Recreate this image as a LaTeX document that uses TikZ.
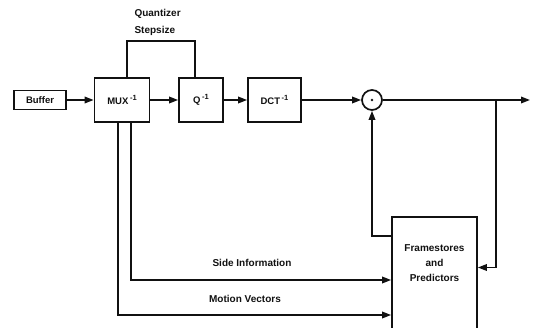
\documentclass[tikz,border=0pt]{standalone}
\usepackage{fontspec}
\setmainfont{Liberation Sans}
\usetikzlibrary{arrows.meta,positioning,calc}
\definecolor{BDInk}{HTML}{111111}
\definecolor{BDPaper}{HTML}{FFFFFF}
\newcommand{\inv}{\,\raisebox{0.9ex}{\fontsize{7.5}{8}\selectfont -1}}
\tikzset{
  flow/.style={-{Triangle[length=9pt,width=6.5pt]},BDInk,line width=1.7pt},
  wire/.style={BDInk,line width=1.7pt},
  block/.style={draw=BDInk,line width=1.7pt,fill=BDPaper,text=BDInk,
                font=\fontsize{9.5}{11}\selectfont\bfseries,align=center,inner sep=0pt},
  adder/.style={circle,draw=BDInk,line width=1.7pt,minimum size=20pt,inner sep=0pt},
  label/.style={text=BDInk,font=\fontsize{10}{17}\selectfont\bfseries,align=left},
}

\begin{document}
\begin{tikzpicture}[x=1pt,y=1pt]
    \useasboundingbox (0,0) rectangle (533,328);

    % ------------------------------------------------------------ forward path
    \node[block,minimum width=52pt,minimum height=19pt] (buffer) at (40,228)  {Buffer};
    \node[block,minimum width=55pt,minimum height=44pt] (mux)    at (122,228) {MUX\inv};
    \node[block,minimum width=44pt,minimum height=44pt] (quant)  at (201,228) {Q\inv};
    \node[block,minimum width=53pt,minimum height=44pt] (dct)    at (274.5,228) {DCT\inv};
    \node[adder] (sum) at (372,228) {};
    \fill[BDInk] (sum) circle (1.4);
    \coordinate (tap) at (496,228);
    \coordinate (out) at (530,228);

    \draw[flow] (buffer) -- (mux);
    \draw[flow] (mux) -- (quant);
    \draw[flow] (quant) -- (dct);
    \draw[flow] (dct) -- (sum);
    \draw[flow] (sum) -- (out);

    % ------------------------------------------------------- quantizer stepsize
    \draw[wire] ([xshift=5pt]mux.north) -- ++(0,36) -| ([xshift=-6pt]quant.north);
    \node[label,anchor=west] (stepsize) at (131,306) {Quantizer\\Stepsize};

    % ---------------------------------------------------------- prediction loop
    \node[block,minimum width=85pt,minimum height=113pt,
          font=\fontsize{10}{15}\selectfont\bfseries] (frame) at (434.5,54.5)
      {Framestores\\and\\Predictors\\[6pt]};
    \draw[flow] ([yshift=-20pt]frame.north west) -| (sum.south);
    \draw[flow] (tap) |- ([yshift=6pt]frame.east);

    % ------------------------------------------------------------- side channels
    \draw[flow] ([xshift=9pt]mux.south) |- ([yshift=-6.5pt]frame.west);
    \draw[flow] ([xshift=-4pt]mux.south) |- ([yshift=-41.5pt]frame.west);
    \node[label] (sideinfo) at (252,65) {Side Information};
    \node[label] (motion)   at (245,29) {Motion Vectors};
  \end{tikzpicture}
\end{document}
